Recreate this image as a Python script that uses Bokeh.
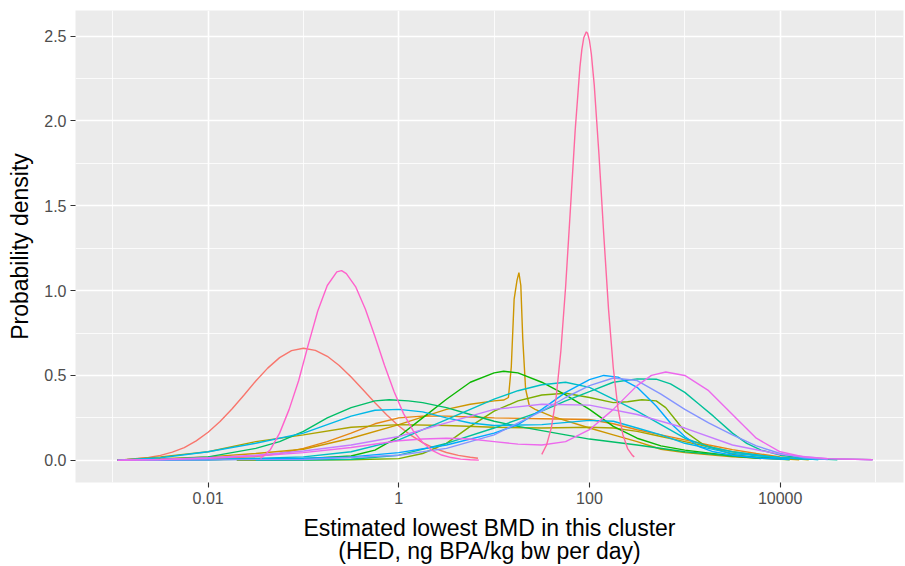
import math
from bokeh.plotting import figure
from bokeh.models import Range1d, FixedTicker, PrintfTickFormatter
from bokeh.embed import file_html
from bokeh.resources import INLINE

# ---- data: log10(HED) positions and probability density for each cluster curve ----
g01_log10_hed = [-2.95, -2.85, -2.625, -2.5, -2.375, -2.25, -2.125, -2.0, -1.875, -1.75, -1.625, -1.5, -1.375, -1.25, -1.125, -1.0, -0.875, -0.75, -0.625, -0.5, -0.375, -0.25, -0.125, 0.0, 0.125, 0.25, 0.375, 0.5, 0.625, 0.75, 0.83]
g01_density = [0.003, 0.005, 0.017, 0.029, 0.048, 0.075, 0.114, 0.165, 0.228, 0.302, 0.383, 0.467, 0.543, 0.605, 0.646, 0.660, 0.648, 0.613, 0.559, 0.491, 0.416, 0.339, 0.267, 0.202, 0.148, 0.104, 0.070, 0.046, 0.029, 0.018, 0.012]

g02_log10_hed = [-2.95, -2.5, -2.0, -1.5, -1.25, -1.0, -0.75, -0.5, -0.25, 0.0, 0.25, 0.5, 0.75, 1.0, 1.5, 2.0, 2.25, 2.5, 2.75, 3.0, 3.25, 3.5, 3.75, 4.0, 4.25]
g02_density = [0.0, 0.004, 0.01, 0.022, 0.04, 0.07, 0.11, 0.16, 0.215, 0.25, 0.26, 0.26, 0.255, 0.25, 0.245, 0.24, 0.215, 0.18, 0.15, 0.12, 0.09, 0.063, 0.04, 0.02, 0.006]

g03_log10_hed = [-2.95, -2.5, -2.0, -1.5, -1.0, -0.5, 0.0, 0.5, 0.75, 1.0, 1.1, 1.15, 1.18, 1.21, 1.24, 1.26, 1.28, 1.30, 1.33, 1.37, 1.43, 1.6, 2.0, 2.25, 2.5, 2.75, 3.0, 3.5, 4.0, 4.2]
g03_density = [0.0, 0.01, 0.02, 0.04, 0.065, 0.13, 0.21, 0.30, 0.33, 0.35, 0.355, 0.37, 0.55, 0.95, 1.06, 1.106, 1.03, 0.72, 0.42, 0.32, 0.30, 0.26, 0.19, 0.15, 0.11, 0.065, 0.045, 0.02, 0.008, 0.003]

g04_log10_hed = [-2.95, -2.5, -2.0, -1.5, -1.0, -0.5, 0.0, 0.5, 1.0, 1.5, 2.0, 2.25, 2.5, 2.75, 3.0, 3.25, 3.5, 3.75, 4.0, 4.3]
g04_density = [0.0, 0.02, 0.05, 0.11, 0.15, 0.195, 0.21, 0.205, 0.195, 0.19, 0.195, 0.19, 0.17, 0.14, 0.11, 0.08, 0.05, 0.03, 0.015, 0.003]

g05_log10_hed = [-1.7, -1.0, -0.5, 0.0, 0.25, 0.5, 0.75, 1.0, 1.25, 1.5, 1.75, 2.0, 2.25, 2.4, 2.55, 2.7, 2.8, 2.9, 3.0, 3.2, 3.5, 3.8, 4.1]
g05_density = [0.0, 0.001, 0.003, 0.01, 0.04, 0.10, 0.20, 0.29, 0.35, 0.385, 0.395, 0.37, 0.34, 0.345, 0.357, 0.35, 0.31, 0.24, 0.17, 0.09, 0.035, 0.012, 0.003]

g06_log10_hed = [-2.95, -2.0, -1.0, -0.5, -0.25, 0.0, 0.25, 0.5, 0.75, 1.0, 1.1, 1.25, 1.5, 1.75, 2.0, 2.25, 2.5, 2.75, 3.0, 3.5, 3.8]
g06_density = [0.0, 0.003, 0.01, 0.025, 0.06, 0.14, 0.25, 0.36, 0.46, 0.515, 0.525, 0.515, 0.46, 0.385, 0.30, 0.20, 0.13, 0.085, 0.06, 0.025, 0.01]

g07_log10_hed = [-2.95, -2.5, -2.0, -1.5, -1.25, -1.0, -0.75, -0.5, -0.25, -0.1, 0.1, 0.25, 0.5, 0.75, 1.0, 1.25, 1.5, 1.75, 2.0, 2.5, 3.0, 3.5, 4.0, 4.5, 4.97]
g07_density = [0.0, 0.005, 0.02, 0.07, 0.11, 0.17, 0.25, 0.31, 0.35, 0.357, 0.35, 0.34, 0.31, 0.27, 0.23, 0.20, 0.175, 0.15, 0.125, 0.09, 0.05, 0.025, 0.012, 0.008, 0.004]

g08_log10_hed = [-1.5, -1.0, -0.5, 0.0, 0.5, 1.0, 1.5, 1.75, 2.0, 2.25, 2.5, 2.7, 2.85, 3.0, 3.15, 3.3, 3.5, 3.65, 3.8, 4.0, 4.3, 4.6]
g08_density = [0.0, 0.002, 0.006, 0.03, 0.10, 0.19, 0.29, 0.35, 0.405, 0.46, 0.48, 0.478, 0.45, 0.40, 0.33, 0.26, 0.16, 0.10, 0.06, 0.03, 0.01, 0.003]

g09_log10_hed = [-2.9, -2.0, -1.0, -0.5, 0.0, 0.5, 1.0, 1.25, 1.5, 1.75, 2.0, 2.25, 2.5, 2.75, 3.0, 3.25, 3.5, 4.0, 4.4]
g09_density = [0.0, 0.003, 0.02, 0.05, 0.12, 0.24, 0.36, 0.41, 0.445, 0.46, 0.43, 0.36, 0.29, 0.21, 0.13, 0.08, 0.05, 0.015, 0.004]

g10_log10_hed = [-2.95, -2.5, -2.0, -1.5, -1.0, -0.75, -0.5, -0.25, 0.0, 0.25, 0.5, 0.75, 1.0, 1.5, 2.0, 2.25, 2.5, 2.75, 3.0, 3.25, 3.5, 4.0, 4.4]
g10_density = [0.0, 0.015, 0.05, 0.10, 0.16, 0.21, 0.26, 0.295, 0.30, 0.285, 0.25, 0.22, 0.205, 0.21, 0.235, 0.23, 0.19, 0.15, 0.10, 0.07, 0.04, 0.015, 0.004]

g11_log10_hed = [-2.9, -2.0, -1.0, -0.5, 0.0, 0.5, 1.0, 1.25, 1.5, 1.75, 2.0, 2.15, 2.3, 2.5, 2.7, 2.85, 3.0, 3.15, 3.3, 3.5, 3.8, 4.1]
g11_density = [0.0, 0.005, 0.012, 0.02, 0.045, 0.09, 0.16, 0.21, 0.30, 0.40, 0.475, 0.50, 0.49, 0.43, 0.32, 0.22, 0.14, 0.08, 0.05, 0.03, 0.012, 0.004]

g12_log10_hed = [-2.9, -1.0, 0.0, 0.5, 1.0, 1.5, 1.75, 2.0, 2.25, 2.5, 2.75, 3.0, 3.25, 3.5, 3.75, 4.0, 4.25, 4.5]
g12_density = [0.0, 0.005, 0.03, 0.07, 0.15, 0.29, 0.37, 0.44, 0.485, 0.47, 0.39, 0.30, 0.22, 0.15, 0.085, 0.04, 0.015, 0.004]

g13_log10_hed = [-2.95, -2.5, -2.0, -1.5, -1.0, -0.5, 0.0, 0.5, 1.0, 1.5, 2.0, 2.5, 3.0, 3.5, 4.0, 4.5, 4.97]
g13_density = [0.0, 0.005, 0.015, 0.03, 0.055, 0.09, 0.14, 0.22, 0.30, 0.33, 0.325, 0.27, 0.19, 0.09, 0.035, 0.01, 0.003]

g14_log10_hed = [-2.95, -2.5, -2.0, -1.5, -1.0, -0.5, 0.0, 0.25, 0.5, 0.75, 1.0, 1.25, 1.5, 1.75, 2.0, 2.25, 2.5, 2.65, 2.8, 3.0, 3.25, 3.5, 3.75, 4.0, 4.25, 4.5, 4.97]
g14_density = [0.0, 0.005, 0.012, 0.025, 0.045, 0.075, 0.115, 0.125, 0.13, 0.125, 0.11, 0.095, 0.09, 0.11, 0.18, 0.30, 0.44, 0.50, 0.52, 0.50, 0.41, 0.27, 0.13, 0.05, 0.02, 0.01, 0.003]

g15_log10_hed = [-1.45, -1.35, -1.25, -1.15, -1.05, -0.95, -0.85, -0.75, -0.65, -0.6, -0.55, -0.45, -0.35, -0.25, -0.15, -0.05, 0.05, 0.15, 0.25, 0.35, 0.45, 0.55, 0.65, 0.75, 0.84]
g15_density = [0.01, 0.06, 0.16, 0.30, 0.47, 0.68, 0.88, 1.03, 1.11, 1.118, 1.10, 1.02, 0.89, 0.73, 0.56, 0.405, 0.275, 0.175, 0.105, 0.059, 0.031, 0.016, 0.007, 0.003, 0.001]

g16_log10_hed = [1.50, 1.55, 1.60, 1.65, 1.70, 1.75, 1.80, 1.85, 1.90, 1.92, 1.94, 1.967, 1.98, 2.00, 2.02, 2.05, 2.10, 2.15, 2.20, 2.25, 2.30, 2.35, 2.40, 2.45, 2.47]
g16_density = [0.035, 0.090, 0.191, 0.368, 0.644, 1.023, 1.479, 1.943, 2.317, 2.420, 2.490, 2.525, 2.517, 2.473, 2.393, 2.213, 1.799, 1.329, 0.891, 0.544, 0.301, 0.152, 0.069, 0.029, 0.02]

x_tick_values = [0.01, 1, 100, 10000]
x_tick_labels = ["0.01", "1", "100", "10000"]
x_minor_values = [0.001, 0.1, 10, 1000, 100000]
y_tick_values = [0.0, 0.5, 1.0, 1.5, 2.0, 2.5]
y_minor_values = [0.25, 0.75, 1.25, 1.75, 2.25]

x_title = "Estimated lowest BMD in this cluster\n(HED, ng BPA/kg bw per day)"
y_title = "Probability density"

curves = [
    (g01_log10_hed, g01_density), (g02_log10_hed, g02_density), (g03_log10_hed, g03_density),
    (g04_log10_hed, g04_density), (g05_log10_hed, g05_density), (g06_log10_hed, g06_density),
    (g07_log10_hed, g07_density), (g08_log10_hed, g08_density), (g09_log10_hed, g09_density),
    (g10_log10_hed, g10_density), (g11_log10_hed, g11_density), (g12_log10_hed, g12_density),
    (g13_log10_hed, g13_density), (g14_log10_hed, g14_density), (g15_log10_hed, g15_density),
    (g16_log10_hed, g16_density),
]


# ggplot2 default hue palette (HCL, c=100, l=65)
def hcl_hex(h, c=100.0, l=65.0):
    xn, yn, zn = 95.047, 100.0, 108.883
    den = xn + 15 * yn + 3 * zn
    un, vn = 4 * xn / den, 9 * yn / den
    hr = math.radians(h)
    u, v = c * math.cos(hr), c * math.sin(hr)
    Y = yn * ((l + 16) / 116) ** 3
    uu = u / (13 * l) + un
    vv = v / (13 * l) + vn
    X = 9.0 * Y * uu / (4 * vv)
    Z = -X / 3 - 5 * Y + 3 * Y / vv
    r = (3.240479 * X - 1.537150 * Y - 0.498535 * Z) / yn
    g = (-0.969256 * X + 1.875992 * Y + 0.041556 * Z) / yn
    b = (0.055648 * X - 0.204043 * Y + 1.057311 * Z) / yn

    def gam(t):
        t = 1.055 * t ** (1 / 2.4) - 0.055 if t > 0.00304 else 12.92 * t
        return int(round(max(0.0, min(1.0, t)) * 255))

    return "#%02X%02X%02X" % (gam(r), gam(g), gam(b))


n = len(curves)
colors = [hcl_hex(15 + 360.0 * i / n) for i in range(n)]

lx_left, lx_right = -3.391, 5.294
p = figure(
    width=905, height=566,
    x_axis_type="log",
    x_range=Range1d(10 ** lx_left, 10 ** lx_right),
    y_range=Range1d(-0.131, 2.651),
    output_backend="svg", toolbar_location=None,
    min_border_left=75, min_border_right=2, min_border_top=10, min_border_bottom=83,
)
p.background_fill_color = "#EBEBEB"
p.border_fill_color = "white"
p.outline_line_color = None

p.xaxis.ticker = FixedTicker(ticks=x_tick_values, minor_ticks=x_minor_values)
p.xaxis.major_label_overrides = {v: s for v, s in zip(x_tick_values, x_tick_labels)}
p.yaxis.ticker = FixedTicker(ticks=y_tick_values, minor_ticks=y_minor_values)
p.yaxis.formatter = PrintfTickFormatter(format="%.1f")

for ax in (p.xaxis, p.yaxis):
    ax.axis_line_color = None
    ax.major_tick_line_color = "#333333"
    ax.major_tick_line_width = 1.1
    ax.major_tick_out = 5
    ax.major_tick_in = 0
    ax.minor_tick_line_color = None
    ax.major_label_text_color = "#4D4D4D"
    ax.major_label_text_font = "Liberation Sans"
    ax.major_label_text_font_size = "16px"
    ax.major_label_standoff = 4
    ax.axis_label_text_font = "Liberation Sans"
    ax.axis_label_text_font_size = "23px"
    ax.axis_label_text_font_style = "normal"
    ax.axis_label_text_color = "black"

p.xaxis.axis_label = x_title
p.xaxis.axis_label_standoff = 8
p.xaxis.axis_label_text_line_height = 0.9
p.yaxis.axis_label = y_title
p.yaxis.axis_label_standoff = 8

for grid in (p.xgrid, p.ygrid):
    grid.grid_line_color = "white"
    grid.grid_line_width = 1.6
    grid.minor_grid_line_color = "white"
    grid.minor_grid_line_width = 0.8

for (lx, dens), col in zip(curves, colors):
    hed = [10 ** v for v in lx]
    p.line(hed, dens, line_color=col, line_width=1.4)

open("out.html", "w").write(file_html(p, INLINE))
